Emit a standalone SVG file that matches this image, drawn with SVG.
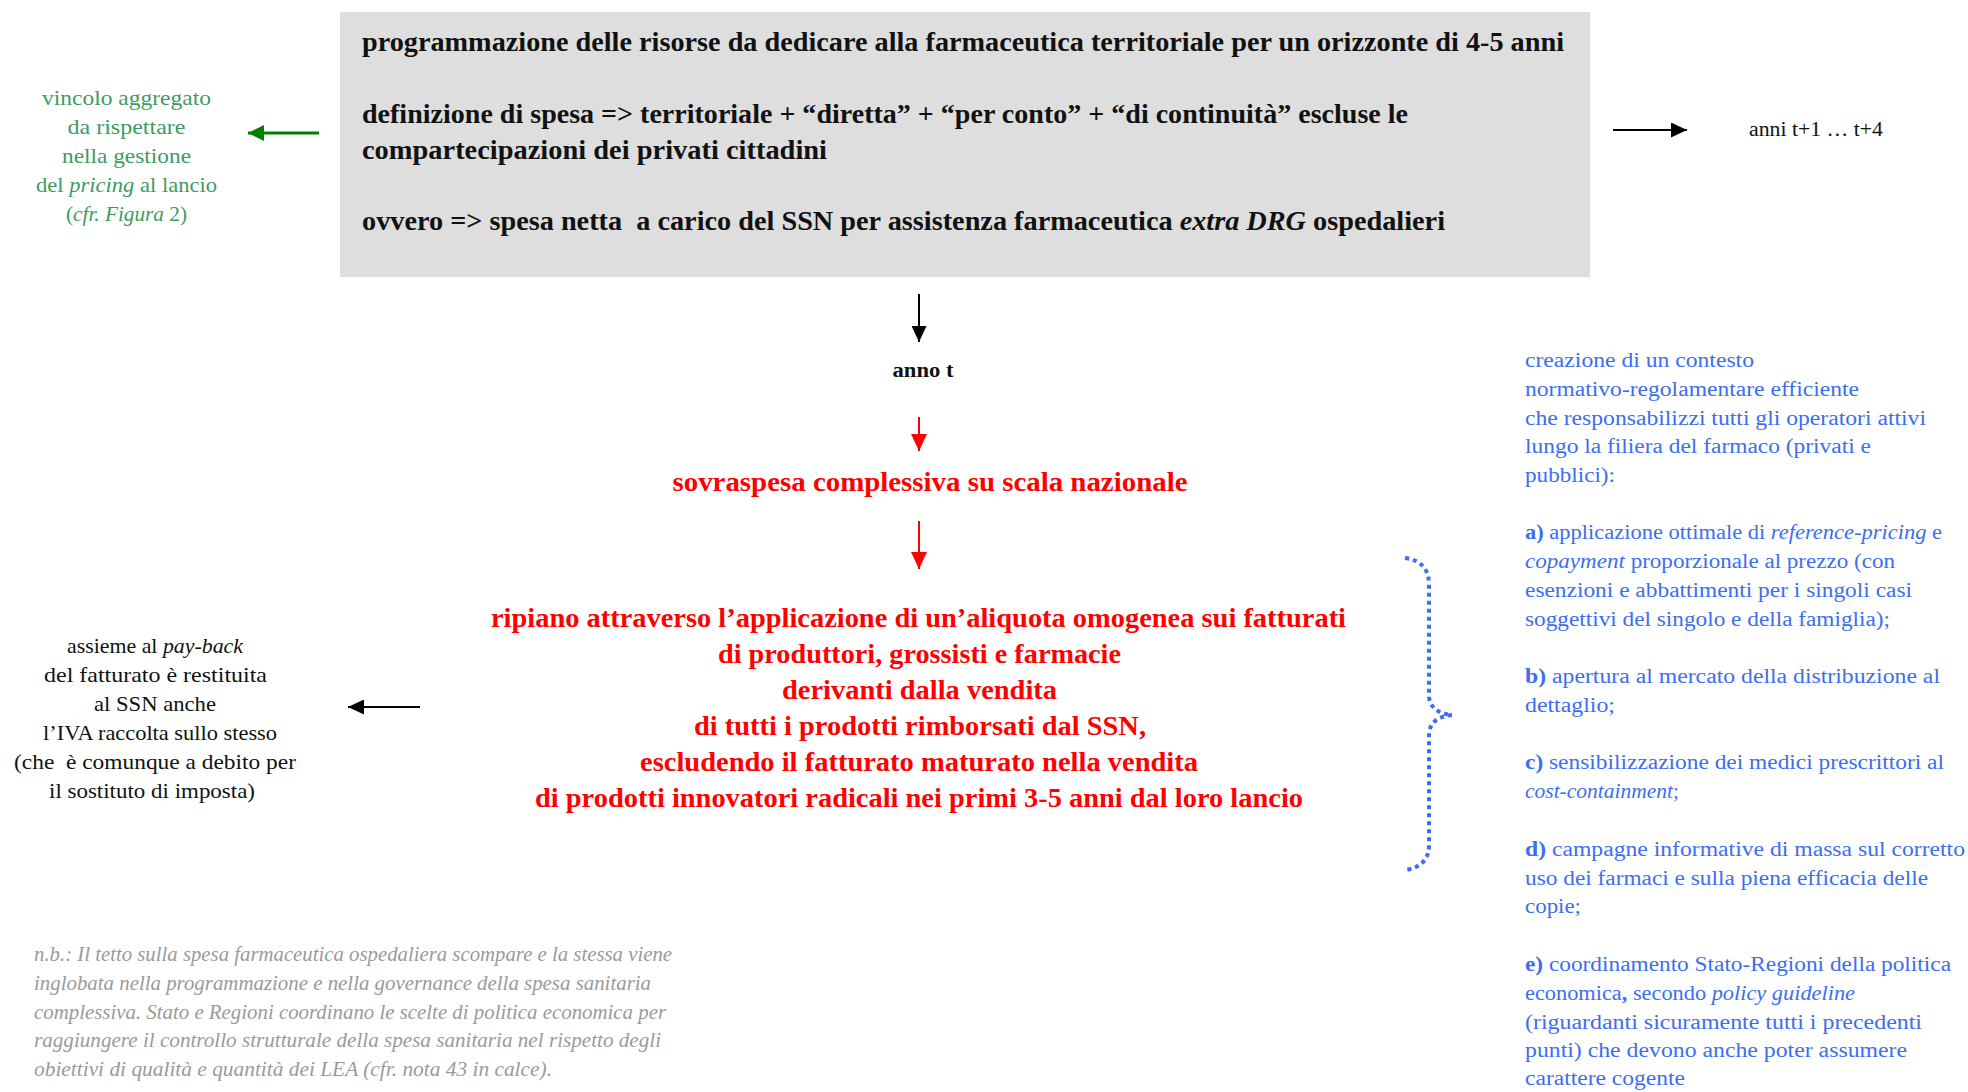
<svg xmlns="http://www.w3.org/2000/svg" width="1968" height="1092" viewBox="0 0 1968 1092">
<style>
text{font-family:"Liberation Serif","DejaVu Serif",serif}
.box{font-size:27px;font-weight:bold;fill:#111}
.red{font-size:27px;font-weight:bold;fill:#ff0000}
.grn{font-size:22px;fill:#3d9b5f}
.blk{font-size:21px;fill:#111}
.blu{font-size:20px;fill:#3b6ef0}
.note{font-size:20px;font-style:italic;fill:#9a9a9a}
.i{font-style:italic}
.b{font-weight:bold}
.ln{fill:none}
.pre{white-space:pre}
</style>
<defs>
<marker id="ahBlack" markerUnits="userSpaceOnUse" markerWidth="16" markerHeight="15" refX="16" refY="7.5" orient="auto"><path d="M0,0 L16,7.5 L0,15 z" fill="#000"/></marker>
<marker id="ahRed" markerUnits="userSpaceOnUse" markerWidth="17" markerHeight="16" refX="17" refY="8" orient="auto"><path d="M0,0 L17,8 L0,16 z" fill="#ff0000"/></marker>
<marker id="ahGreen" markerUnits="userSpaceOnUse" markerWidth="16" markerHeight="16" refX="16" refY="8" orient="auto"><path d="M0,0 L16,8 L0,16 z" fill="#008000"/></marker>
</defs>
<rect width="1968" height="1092" fill="#fff"/>

<g id="box-programmazione">
<rect x="340" y="12" width="1250" height="265" fill="#dedede"/>
<text class="box" x="362" y="51" textLength="1202" lengthAdjust="spacingAndGlyphs">programmazione delle risorse da dedicare alla farmaceutica territoriale per un orizzonte di 4-5 anni</text>
<text class="box" x="362" y="123" textLength="1046" lengthAdjust="spacingAndGlyphs">definizione di spesa =&gt; territoriale + “diretta” + “per conto” + “di continuità” escluse le</text>
<text class="box" x="362" y="159" textLength="465" lengthAdjust="spacingAndGlyphs">compartecipazioni dei privati cittadini</text>
<text class="box pre" xml:space="preserve" x="362" y="230" textLength="1083" lengthAdjust="spacingAndGlyphs">ovvero =&gt; spesa netta  a carico del SSN per assistenza farmaceutica <tspan class="i">extra DRG</tspan> ospedalieri</text>
</g>

<g id="vincolo" text-anchor="middle">
<text class="grn" x="126.5" y="105" textLength="169" lengthAdjust="spacingAndGlyphs">vincolo aggregato</text>
<text class="grn" x="126.5" y="134" textLength="118" lengthAdjust="spacingAndGlyphs">da rispettare</text>
<text class="grn" x="126.5" y="163" textLength="129" lengthAdjust="spacingAndGlyphs">nella gestione</text>
<text class="grn" x="126.5" y="192" textLength="181" lengthAdjust="spacingAndGlyphs">del <tspan class="i">pricing</tspan> al lancio</text>
<text class="grn" x="126.5" y="221" textLength="121" lengthAdjust="spacingAndGlyphs">(<tspan class="i">cfr. Figura</tspan> 2)</text>
</g>

<g id="anni">
<text x="1749" y="136" style="font-size:20px;fill:#111" textLength="134" lengthAdjust="spacingAndGlyphs">anni t+1 … t+4</text>
</g>

<g id="anno-t">
<text x="923" y="377" text-anchor="middle" style="font-size:20px;font-weight:bold;fill:#111" textLength="61" lengthAdjust="spacingAndGlyphs">anno t</text>
</g>

<g id="sovraspesa">
<text class="red" x="930" y="491" text-anchor="middle" textLength="515" lengthAdjust="spacingAndGlyphs">sovraspesa complessiva su scala nazionale</text>
</g>

<g id="ripiano" text-anchor="middle">
<text class="red" x="918.5" y="627" textLength="855" lengthAdjust="spacingAndGlyphs">ripiano attraverso l’applicazione di un’aliquota omogenea sui fatturati</text>
<text class="red" x="919.5" y="663" textLength="403" lengthAdjust="spacingAndGlyphs">di produttori, grossisti e farmacie</text>
<text class="red" x="919.5" y="699" textLength="275" lengthAdjust="spacingAndGlyphs">derivanti dalla vendita</text>
<text class="red" x="920" y="735" textLength="452" lengthAdjust="spacingAndGlyphs">di tutti i prodotti rimborsati dal SSN,</text>
<text class="red" x="919" y="771" textLength="558" lengthAdjust="spacingAndGlyphs">escludendo il fatturato maturato nella vendita</text>
<text class="red" x="919" y="807" textLength="768" lengthAdjust="spacingAndGlyphs">di prodotti innovatori radicali nei primi 3-5 anni dal loro lancio</text>
</g>

<g id="payback" text-anchor="middle">
<text class="blk" x="155" y="653" textLength="176" lengthAdjust="spacingAndGlyphs">assieme al <tspan class="i">pay-back</tspan></text>
<text class="blk" x="155.5" y="682" textLength="223" lengthAdjust="spacingAndGlyphs">del fatturato è restituita</text>
<text class="blk" x="155" y="711" textLength="122" lengthAdjust="spacingAndGlyphs">al SSN anche</text>
<text class="blk" x="160" y="740" textLength="234" lengthAdjust="spacingAndGlyphs">l’IVA raccolta sullo stesso</text>
<text class="blk pre" xml:space="preserve" x="155" y="769" textLength="282" lengthAdjust="spacingAndGlyphs">(che  è comunque a debito per</text>
<text class="blk" x="152" y="798" textLength="206" lengthAdjust="spacingAndGlyphs">il sostituto di imposta)</text>
</g>

<g id="contesto">
<text class="blu" x="1525" y="367" textLength="229" lengthAdjust="spacingAndGlyphs">creazione di un contesto</text>
<text class="blu" x="1525" y="396" textLength="334" lengthAdjust="spacingAndGlyphs">normativo-regolamentare efficiente</text>
<text class="blu" x="1525" y="425" textLength="401" lengthAdjust="spacingAndGlyphs">che responsabilizzi tutti gli operatori attivi</text>
<text class="blu" x="1525" y="453" textLength="346" lengthAdjust="spacingAndGlyphs">lungo la filiera del farmaco (privati e</text>
<text class="blu" x="1525" y="482" textLength="90" lengthAdjust="spacingAndGlyphs">pubblici):</text>
<text class="blu" x="1525" y="539" textLength="417" lengthAdjust="spacingAndGlyphs"><tspan class="b">a)</tspan> applicazione ottimale di <tspan class="i">reference-pricing</tspan> e</text>
<text class="blu" x="1525" y="568" textLength="370" lengthAdjust="spacingAndGlyphs"><tspan class="i">copayment</tspan> proporzionale al prezzo (con</text>
<text class="blu" x="1525" y="597" textLength="387" lengthAdjust="spacingAndGlyphs">esenzioni e abbattimenti per i singoli casi</text>
<text class="blu" x="1525" y="626" textLength="365" lengthAdjust="spacingAndGlyphs">soggettivi del singolo e della famiglia);</text>
<text class="blu" x="1525" y="683" textLength="415" lengthAdjust="spacingAndGlyphs"><tspan class="b">b)</tspan> apertura al mercato della distribuzione al</text>
<text class="blu" x="1525" y="712" textLength="90" lengthAdjust="spacingAndGlyphs">dettaglio;</text>
<text class="blu" x="1525" y="769" textLength="419" lengthAdjust="spacingAndGlyphs"><tspan class="b">c)</tspan> sensibilizzazione dei medici prescrittori al</text>
<text class="blu" x="1525" y="798" textLength="154" lengthAdjust="spacingAndGlyphs"><tspan class="i">cost-containment</tspan>;</text>
<text class="blu" x="1525" y="856" textLength="440" lengthAdjust="spacingAndGlyphs"><tspan class="b">d)</tspan> campagne informative di massa sul corretto</text>
<text class="blu" x="1525" y="885" textLength="403" lengthAdjust="spacingAndGlyphs">uso dei farmaci e sulla piena efficacia delle</text>
<text class="blu" x="1525" y="913" textLength="56" lengthAdjust="spacingAndGlyphs">copie;</text>
<text class="blu" x="1525" y="971" textLength="426" lengthAdjust="spacingAndGlyphs"><tspan class="b">e)</tspan> coordinamento Stato-Regioni della politica</text>
<text class="blu" x="1525" y="1000" textLength="330" lengthAdjust="spacingAndGlyphs">economica<tspan class="b">,</tspan> secondo <tspan class="i">policy guideline</tspan></text>
<text class="blu" x="1525" y="1029" textLength="397" lengthAdjust="spacingAndGlyphs">(riguardanti sicuramente tutti i precedenti</text>
<text class="blu" x="1525" y="1057" textLength="382" lengthAdjust="spacingAndGlyphs">punti) che devono anche poter assumere</text>
<text class="blu" x="1525" y="1085" textLength="160" lengthAdjust="spacingAndGlyphs">carattere cogente</text>
</g>

<g id="nota">
<text class="note" x="34" y="961" textLength="638" lengthAdjust="spacingAndGlyphs">n.b.: Il tetto sulla spesa farmaceutica ospedaliera scompare e la stessa viene</text>
<text class="note" x="34" y="990" textLength="617" lengthAdjust="spacingAndGlyphs">inglobata nella programmazione e nella governance della spesa sanitaria</text>
<text class="note" x="34" y="1019" textLength="632" lengthAdjust="spacingAndGlyphs">complessiva. Stato e Regioni coordinano le scelte di politica economica per</text>
<text class="note" x="34" y="1047" textLength="627" lengthAdjust="spacingAndGlyphs">raggiungere il controllo strutturale della spesa sanitaria nel rispetto degli</text>
<text class="note" x="34" y="1076" textLength="518" lengthAdjust="spacingAndGlyphs">obiettivi di qualità e quantità dei LEA (cfr. nota 43 in calce).</text>
</g>

<g id="connectors" class="ln">
<line x1="319" y1="133" x2="248" y2="133" stroke="#008000" stroke-width="3" marker-end="url(#ahGreen)"/>
<line x1="1613" y1="130" x2="1687" y2="130" stroke="#000" stroke-width="2.2" marker-end="url(#ahBlack)"/>
<line x1="919" y1="294" x2="919" y2="342" stroke="#000" stroke-width="2" marker-end="url(#ahBlack)"/>
<line x1="919" y1="417" x2="919" y2="451" stroke="#ff0000" stroke-width="2" marker-end="url(#ahRed)"/>
<line x1="919" y1="521" x2="919" y2="569" stroke="#ff0000" stroke-width="2" marker-end="url(#ahRed)"/>
<line x1="420" y1="707" x2="348" y2="707" stroke="#000" stroke-width="2.2" marker-end="url(#ahBlack)"/>
<path d="M1405,558 Q1429,561 1429,585 L1429,697 Q1431,713 1452,715 Q1431,717 1429,733 L1429,845 Q1429,866 1406,870" stroke="#3b6ef5" stroke-width="4" stroke-dasharray="4 4"/>
</g>
</svg>
